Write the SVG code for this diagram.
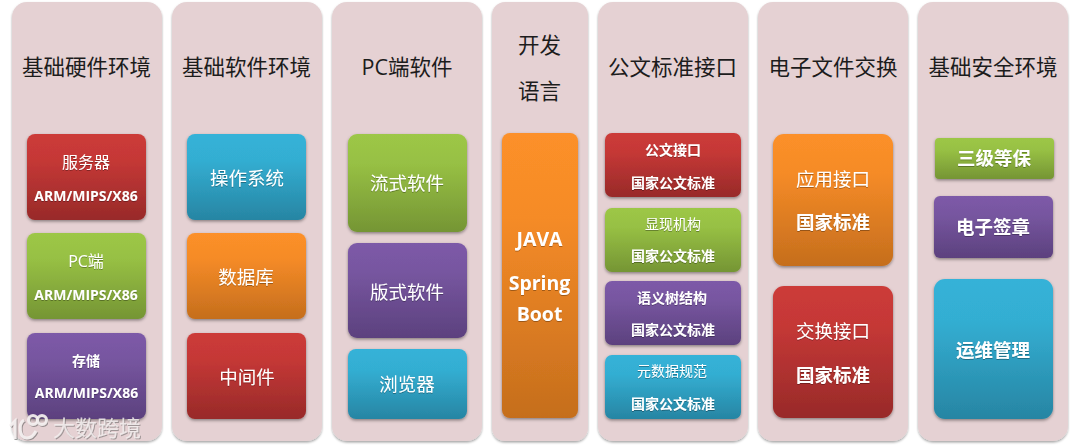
<svg xmlns="http://www.w3.org/2000/svg" width="1080" height="447" viewBox="0 0 1080 447">
<style>
text{font-family:"Open Sans","Noto Sans CJK SC",sans-serif;text-anchor:middle}
.col{fill:#e5d1d3;filter:url(#cs)}
.h{font-size:21.500px;fill:#1c1c1c;font-weight:400}
.t{fill:#fff;filter:url(#ts)}
.s19{font-size:18.500px}.s16{font-size:16px}.s14{font-size:14px}.s20{font-size:19.500px}
.s17{font-size:18.500px}
.b{font-weight:700}
.r{fill:url(#red);filter:url(#bs)}.g{fill:url(#green);filter:url(#bs)}.p{fill:url(#purple);filter:url(#bs)}.c{fill:url(#cyan);filter:url(#bs)}.o{fill:url(#orange);filter:url(#bs)}
.wm{font-size:22px;fill:#f4f0f0;fill-opacity:.8;filter:url(#ws)}
.lg{fill:none;stroke:#f6f2f2;stroke-opacity:.9;stroke-width:3;filter:url(#ws)}
</style>
<defs>
<linearGradient id="red" x1="0" y1="0" x2="0" y2="1"><stop offset="0" stop-color="#cc3b39"/><stop offset=".3" stop-color="#c53836"/><stop offset="1" stop-color="#982a29"/></linearGradient>
<linearGradient id="green" x1="0" y1="0" x2="0" y2="1"><stop offset="0" stop-color="#9dc746"/><stop offset=".3" stop-color="#97c044"/><stop offset="1" stop-color="#759534"/></linearGradient>
<linearGradient id="purple" x1="0" y1="0" x2="0" y2="1"><stop offset="0" stop-color="#7d5aa8"/><stop offset=".3" stop-color="#7756a0"/><stop offset="1" stop-color="#5c417e"/></linearGradient>
<linearGradient id="cyan" x1="0" y1="0" x2="0" y2="1"><stop offset="0" stop-color="#35b2d8"/><stop offset=".3" stop-color="#33aed2"/><stop offset="1" stop-color="#2785a3"/></linearGradient>
<linearGradient id="orange" x1="0" y1="0" x2="0" y2="1"><stop offset="0" stop-color="#fc9029"/><stop offset=".3" stop-color="#f58b27"/><stop offset="1" stop-color="#c56e1d"/></linearGradient>
<filter id="bs" x="-10%" y="-10%" width="120%" height="125%"><feDropShadow dx="0" dy="1.500" stdDeviation="1.400" flood-color="#000" flood-opacity=".4"/></filter>
<filter id="cs" x="-5%" y="-2%" width="110%" height="104%"><feDropShadow dx="0" dy="1.500" stdDeviation="1.200" flood-color="#000" flood-opacity=".35"/></filter>
<filter id="ts" x="-10%" y="-20%" width="120%" height="150%"><feDropShadow dx="0" dy="1" stdDeviation=".5" flood-color="#000" flood-opacity=".3"/></filter>
<filter id="ws" x="-10%" y="-20%" width="120%" height="150%"><feDropShadow dx="1" dy="1" stdDeviation=".6" flood-color="#555" flood-opacity=".6"/></filter>
</defs>

<g id="col-hardware">
<rect class="col" x="12" y="2" width="150" height="439" rx="15"/>
<text class="h" x="86.500" y="75">基础硬件环境</text>
</g>
<g id="node-server"><rect class="r" x="27" y="134" width="119" height="86" rx="8"/>
<text class="t s16" x="86" y="168">服务器</text><text class="t s14 b" x="86" y="201">ARM/MIPS/X86</text></g>
<g id="node-pc"><rect class="g" x="27" y="233" width="119" height="86" rx="8"/>
<text class="t s16" x="86" y="267">PC端</text><text class="t s14 b" x="86" y="300">ARM/MIPS/X86</text></g>
<g id="node-storage"><rect class="p" x="27" y="333" width="119" height="86" rx="8"/>
<text class="t s14 b" x="86" y="366">存储</text><text class="t s14 b" x="86.500" y="398">ARM/MIPS/X86</text></g>

<g id="col-software">
<rect class="col" x="172" y="2" width="150" height="439" rx="15"/>
<text class="h" x="246.500" y="75">基础软件环境</text>
</g>
<g id="node-os"><rect class="c" x="187" y="134" width="119" height="86" rx="8"/><text class="t s19" x="247" y="185">操作系统</text></g>
<g id="node-db"><rect class="o" x="187" y="233" width="119" height="86" rx="8"/><text class="t s19" x="246" y="284">数据库</text></g>
<g id="node-mw"><rect class="r" x="187" y="333" width="119" height="86" rx="8"/><text class="t s19" x="247" y="384">中间件</text></g>

<g id="col-pc">
<rect class="col" x="332" y="2" width="150" height="439" rx="15"/>
<text class="h" x="407" y="75">PC端软件</text>
</g>
<g id="node-flow"><rect class="g" x="348" y="134" width="119" height="98" rx="9"/><text class="t s19" x="407" y="190">流式软件</text></g>
<g id="node-layout"><rect class="p" x="348" y="243" width="119" height="95" rx="9"/><text class="t s19" x="407" y="299">版式软件</text></g>
<g id="node-browser"><rect class="c" x="348" y="349" width="119" height="70" rx="8"/><text class="t s19" x="407" y="391">浏览器</text></g>

<g id="col-lang">
<rect class="col" x="492" y="2" width="96" height="439" rx="13"/>
<text class="h" x="539.500" y="53">开发</text><text class="h" x="539.500" y="99">语言</text>
</g>
<g id="node-java"><rect class="o" x="502" y="133" width="76" height="285" rx="8"/>
<text class="t s20 b" x="539.500" y="246">JAVA</text><text class="t s20 b" x="539.500" y="290">Spring</text><text class="t s20 b" x="539.500" y="321">Boot</text></g>

<g id="col-doc">
<rect class="col" x="598" y="2" width="150" height="439" rx="15"/>
<text class="h" x="672.500" y="75">公文标准接口</text>
</g>
<g id="node-d1"><rect class="r" x="605" y="133" width="136" height="64" rx="7"/><text class="t s14 b" x="673" y="155">公文接口</text><text class="t s14 b" x="673" y="188">国家公文标准</text></g>
<g id="node-d2"><rect class="g" x="605" y="208" width="136" height="64" rx="7"/><text class="t s14" x="673" y="229">显现机构</text><text class="t s14 b" x="673" y="261">国家公文标准</text></g>
<g id="node-d3"><rect class="p" x="605" y="281" width="136" height="64" rx="7"/><text class="t s14 b" x="672" y="303">语义树结构</text><text class="t s14 b" x="673" y="335">国家公文标准</text></g>
<g id="node-d4"><rect class="c" x="605" y="355" width="136" height="64" rx="7"/><text class="t s14" x="672" y="376">元数据规范</text><text class="t s14 b" x="673" y="409">国家公文标准</text></g>

<g id="col-exchange">
<rect class="col" x="758" y="2" width="150" height="439" rx="15"/>
<text class="h" x="833" y="75">电子文件交换</text>
</g>
<g id="node-app"><rect class="o" x="773" y="134" width="120" height="132" rx="11"/><text class="t s17" x="833" y="186">应用接口</text><text class="t s17 b" x="833" y="229">国家标准</text></g>
<g id="node-swap"><rect class="r" x="773" y="286" width="120" height="132" rx="11"/><text class="t s17" x="833" y="338">交换接口</text><text class="t s17 b" x="833" y="382">国家标准</text></g>

<g id="col-security">
<rect class="col" x="918" y="2" width="150" height="439" rx="15"/>
<text class="h" x="993" y="75">基础安全环境</text>
</g>
<g id="node-level"><rect class="g" x="935" y="138" width="119" height="41" rx="4"/><text class="t s17 b" x="994" y="165">三级等保</text></g>
<g id="node-sign"><rect class="p" x="934" y="196" width="119" height="62" rx="6"/><text class="t s17 b" x="993" y="234">电子签章</text></g>
<g id="node-ops"><rect class="c" x="934" y="279" width="119" height="140" rx="11"/><text class="t s17 b" x="993" y="357">运维管理</text></g>

<g id="connectors"/>

<g id="watermark">
<path class="lg" d="M10 426 L15 421 L15 439 M24 420 C18 424 19 438 27 438 C31 438 34 435 36 431"/>
<circle class="lg" cx="33" cy="420" r="4.500"/><circle class="lg" cx="42" cy="420" r="4.500"/>
<text class="wm" x="97" y="436">大数跨境</text>
</g>
</svg>
